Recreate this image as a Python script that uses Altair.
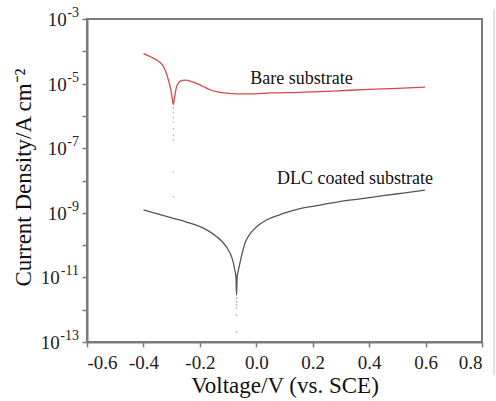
import altair as alt
import pandas as pd

# ---- data (log10 of current density) ----
bare_v = [-0.400, -0.375, -0.353, -0.335, -0.322, -0.312, -0.304, -0.298, -0.294,
          -0.290, -0.284, -0.275, -0.262, -0.250, -0.235, -0.212, -0.188, -0.164,
          -0.140, -0.115, -0.085, -0.050, -0.020, 0.050, 0.150, 0.273, 0.400, 0.500, 0.598]
bare_log = [-4.07, -4.17, -4.27, -4.40, -4.60, -4.87, -5.15, -5.45, -5.65,
            -5.45, -5.15, -4.97, -4.90, -4.89, -4.92, -4.99, -5.09, -5.19,
            -5.25, -5.29, -5.31, -5.32, -5.32, -5.29, -5.27, -5.23, -5.18, -5.15, -5.11]

dlc_v = [-0.400, -0.350, -0.294, -0.250, -0.199, -0.170, -0.140, -0.120, -0.099,
         -0.088, -0.081, -0.076, -0.072, -0.070, -0.068, -0.064, -0.058, -0.050,
         -0.040, -0.022, -0.010, 0.013, 0.037, 0.096, 0.155, 0.214, 0.290, 0.368,
         0.450, 0.520, 0.598]
dlc_log = [-8.91, -9.03, -9.17, -9.28, -9.43, -9.56, -9.74, -9.90, -10.15,
           -10.35, -10.56, -10.78, -11.00, -11.55, -11.00, -10.80, -10.56, -10.25,
           -9.94, -9.65, -9.53, -9.35, -9.22, -9.02, -8.87, -8.78, -8.66, -8.57,
           -8.47, -8.39, -8.30]

bare_dot_v = -0.294
bare_dot_log = [-5.75, -5.9, -6.05, -6.2, -6.4, -6.6, -6.75, -7.73, -8.5]
dlc_dot_v = -0.070
dlc_dot_log = [-11.65, -11.75, -11.85, -11.95, -12.17, -12.68]

labels_text = ["Bare substrate", "DLC coated substrate"]
labels_v = [0.160, 0.350]
labels_log = [-5.00, -8.12]

series_names = ["Bare substrate", "DLC coated substrate"]
series_colors = ["#d9474f", "#555555"]

y_tick_exps = list(range(-13, -2))
y_label_exps = [-3, -5, -7, -9, -11, -13]
x_ticks = [-0.6, -0.4, -0.2, 0.0, 0.2, 0.4, 0.6, 0.8]

# ---- tables ----
lines = pd.DataFrame(
    [{"series": series_names[0], "v": v, "j": 10 ** l} for v, l in zip(bare_v, bare_log)]
    + [{"series": series_names[1], "v": v, "j": 10 ** l} for v, l in zip(dlc_v, dlc_log)]
)
dots = pd.DataFrame(
    [{"series": series_names[0], "v": bare_dot_v, "j": 10 ** l} for l in bare_dot_log]
    + [{"series": series_names[1], "v": dlc_dot_v, "j": 10 ** l} for l in dlc_dot_log]
)
notes = pd.DataFrame({"t": labels_text, "v": labels_v, "j": [10 ** l for l in labels_log]})
ylab = pd.DataFrame({"e": y_label_exps, "j": [10.0 ** e for e in y_label_exps]})

FONT = "Liberation Serif"
AX = "#7a7a7a"
EXP_SIZE = 14

xscale = alt.Scale(domain=[-0.6, 0.8], nice=False, zero=False)
yscale = alt.Scale(type="log", domain=[1e-13, 1e-3], nice=False)

xaxis = alt.Axis(values=x_ticks, labelExpr="replace(format(datum.value, '.1f'), '\u2212', '-')",
                 title="Voltage/V (vs. SCE)", grid=False, tickSize=5, labelPadding=6,
                 labelFont=FONT, labelFontSize=19, titleFont=FONT, titleFontSize=23,
                 titleY=50, titleBaseline="alphabetic")
yaxis = alt.Axis(values=[10 ** e for e in y_tick_exps], labels=False,
                 title="Current Density/A cm⁻²", grid=False, tickSize=5,
                 titleFont=FONT, titleFontSize=23, titleAngle=270, titleX=-57, titleY=158,
                 titleAlign="center", titleBaseline="alphabetic")

color = alt.Color("series:N", scale=alt.Scale(domain=series_names, range=series_colors), legend=None)

line_layer = alt.Chart(lines).mark_line(strokeWidth=1.3, interpolate="monotone").encode(
    x=alt.X("v:Q", scale=xscale, axis=xaxis),
    y=alt.Y("j:Q", scale=yscale, axis=yaxis),
    color=color,
    detail="series:N",
)
dot_layer = alt.Chart(dots).mark_point(filled=True, size=3, opacity=0.45).encode(
    x=alt.X("v:Q", scale=xscale),
    y=alt.Y("j:Q", scale=yscale),
    color=color,
)
note_layer = alt.Chart(notes).mark_text(font=FONT, fontSize=18, color="#111111",
                                        baseline="alphabetic").encode(
    x=alt.X("v:Q", scale=xscale),
    y=alt.Y("j:Q", scale=yscale),
    text="t:N",
)

# y tick labels: "10" with a raised exponent, right-aligned as a group
ylab_base = alt.Chart(ylab).transform_calculate(
    exp_txt="replace(toString(datum.e), '\u2212', '-')",
    exp_w=f"{EXP_SIZE} * (0.333 + 0.5 * length(toString(abs(datum.e))))",
    px_exp="-8",
    px_ten="-8.5 - datum.exp_w",
)
ten_layer = ylab_base.mark_text(font=FONT, fontSize=19, align="right", baseline="middle",
                                color="#222222", dy=1).encode(
    x=alt.X("px_ten:Q", scale=None, axis=None),
    y=alt.Y("j:Q", scale=yscale),
    text=alt.value("10"),
)
exp_layer = ylab_base.mark_text(font=FONT, fontSize=EXP_SIZE, align="right", baseline="middle",
                                color="#222222", dy=-6).encode(
    x=alt.X("px_exp:Q", scale=None, axis=None),
    y=alt.Y("j:Q", scale=yscale),
    text="exp_txt:N",
)

# faint scan border on the right edge of the original figure
edge = alt.Chart(pd.DataFrame({"k": [0]})).mark_rule(color="#c4c4c4", strokeWidth=1).encode(
    x=alt.value(407), y=alt.value(-10), y2=alt.value(356)
)

chart = alt.layer(line_layer, dot_layer, note_layer, ten_layer, exp_layer, edge).properties(
    width=395, height=323,
    autosize=alt.AutoSizeParams(type="none"),
    padding={"left": 87, "top": 19, "right": 14, "bottom": 59},
).configure_axis(
    labelColor="#222222", titleColor="#111111", titleFontWeight="normal",
    domainColor=AX, tickColor=AX, domainWidth=2, tickWidth=1.5,
).configure_view(stroke=AX, strokeWidth=2)

chart.save("out.html", embed_options={"renderer": "svg", "actions": False})
